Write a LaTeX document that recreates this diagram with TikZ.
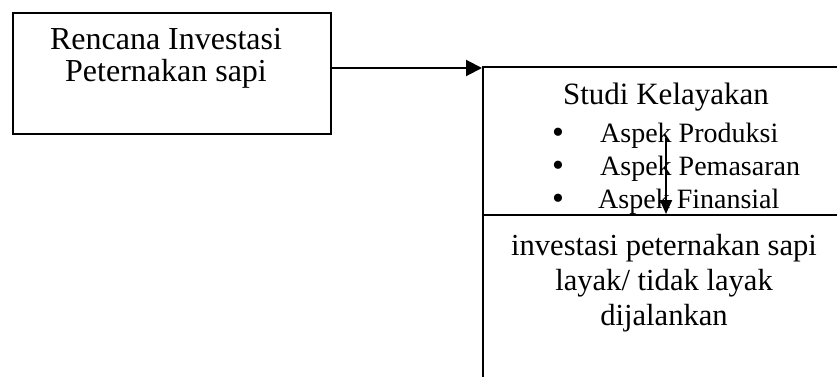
\documentclass[tikz,border=0pt]{standalone}
\usepackage{fontspec}
\setmainfont{Liberation Serif}
\usetikzlibrary{arrows.meta}
\begin{document}
\begin{tikzpicture}[x=1pt,y=-1pt,
  box/.style={draw,line width=2pt,rectangle,inner sep=0pt,anchor=north west},
  txt/.style={inner sep=0pt,anchor=base,font=\fontsize{32}{36}\selectfont},
  txtl/.style={inner sep=0pt,anchor=base west,font=\fontsize{28}{32}\selectfont},
  bul/.style={inner sep=0pt,anchor=base,font=\fontsize{34}{34}\selectfont},
  conn/.style={line width=2pt,-{Triangle[length=16pt,width=16pt]}},
  conn2/.style={line width=2pt,-{Triangle[length=14pt,width=12pt]}}]
\useasboundingbox (0,0) rectangle (837,377);
\clip (0,0) rectangle (837,377);
\node[box,minimum width=318pt,minimum height=121pt] (plan) at (12,12) {};
\node[box,minimum width=400pt,minimum height=148pt] (studi) at (482,66) {};
\node[box,minimum width=400pt,minimum height=200pt] (hasil) at (482,214) {};
\node[txt] (t1) at (166,50) {Rencana Investasi};
\node[txt] (t2) at (166,82) {Peternakan sapi};
\node[txt,font=\fontsize{31}{36}\selectfont] (s0) at (666,105) {Studi Kelayakan};
\node[bul] (b1) at (558,143) {\textbullet};
\node[bul] (b2) at (558,176) {\textbullet};
\node[bul] (b3) at (558,209) {\textbullet};
\node[txtl] (a1) at (600,142) {Aspek Produksi};
\node[txtl] (a2) at (600,175) {Aspek Pemasaran};
\node[txtl] (a3) at (598,208) {Aspek Finansial};
\node[txt,font=\fontsize{30.6}{36}\selectfont] (h1) at (664,255) {investasi peternakan sapi};
\node[txt,font=\fontsize{30.6}{36}\selectfont] (h2) at (664,290) {layak/ tidak layak};
\node[txt,font=\fontsize{30.6}{36}\selectfont] (h3) at (664,325) {dijalankan};
\coordinate (c1) at (plan.east |- 0,68);
\coordinate (c2) at (studi.west |- 0,68);
\draw[conn] (c1) -- (c2);
\coordinate (v1) at (666,138);
\draw[conn2] (v1) -- (v1 |- hasil.north);
\end{tikzpicture}
\end{document}
